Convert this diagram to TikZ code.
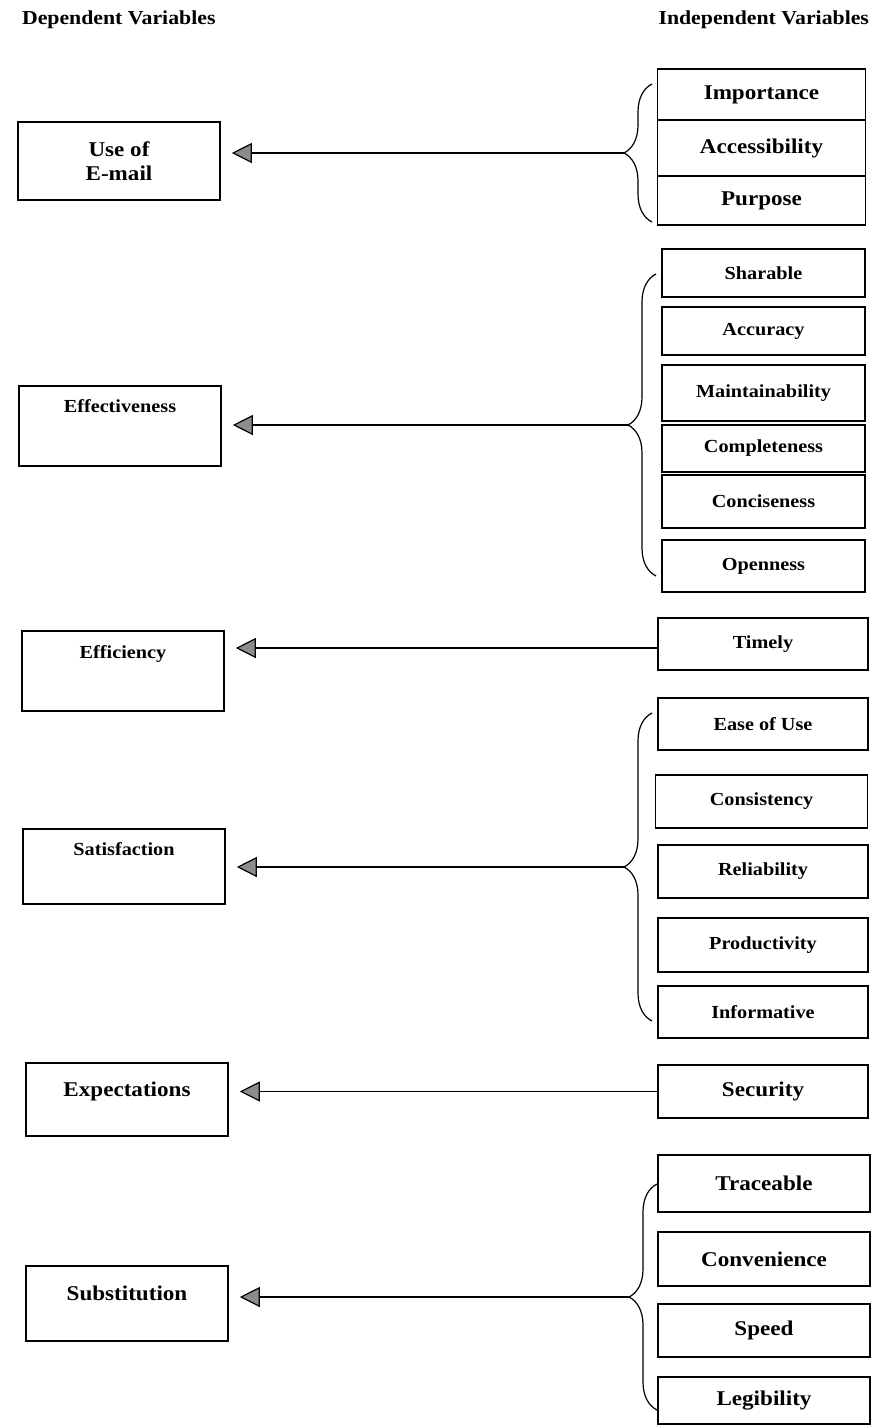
\documentclass[tikz,border=0pt]{standalone}
\usepackage{fontspec}
\setmainfont{Liberation Serif}[FakeStretch=1.1]
\usetikzlibrary{arrows.meta,decorations.pathreplacing}
\tikzset{
    headtxt/.style={font=\bfseries\fontsize{9.9}{12}\selectfont},
    bigtxt/.style={font=\bfseries\fontsize{10.5}{12}\selectfont},
    smalltxt/.style={font=\bfseries\fontsize{9.2}{11}\selectfont},
    depbox/.style={draw, line width=.8pt, inner ysep=0pt, minimum width=101pt},
    indbox/.style={draw, line width=.8pt, minimum width=104pt},
    varrow/.style={line width=.6pt, shorten >=5.5pt,
        -{Triangle[length=10pt,width=10pt,fill=black!45]}},
    grpbrace/.style={decorate, decoration={brace, amplitude=14pt}, line width=.6pt}
}

\begin{document}
\begin{tikzpicture}[x=0.5pt, y=-0.5pt]
    \useasboundingbox (0,0) rectangle (880,1425);

    %Headers
    \node[headtxt, anchor=west] (dephd) at (15,20) {Dependent Variables};
    \node[headtxt, anchor=east] (indhd) at (876,20) {Independent Variables};

    %Dependent variables
    \node[depbox, bigtxt, align=center, minimum height=39pt] (use) at (119,161) {Use of\\E-mail};
    \node[depbox, smalltxt, anchor=north, text height=13.5pt, text depth=26.5pt] (eff) at (120,385) {Effectiveness};
    \node[depbox, smalltxt, anchor=north, text height=14pt, text depth=26pt] (effc) at (123,630) {Efficiency};
    \node[depbox, smalltxt, anchor=north, text height=13.5pt, text depth=24pt] (sat) at (124,828) {Satisfaction};
    \node[depbox, bigtxt, anchor=north, text height=17pt, text depth=19.5pt] (expc) at (127,1062) {Expectations};
    \node[depbox, bigtxt, anchor=north, text height=17.5pt, text depth=20pt] (subs) at (127,1265) {Substitution};

    %Independent variables
    \node[indbox, bigtxt, minimum height=25.5pt] (imp) at (761.5,94.5) {Importance};
    \node[indbox, bigtxt, minimum height=28pt] (acc) at (761.5,148) {Accessibility};
    \node[indbox, bigtxt, minimum height=24.5pt] (pur) at (761.5,200.5) {Purpose};

    \node[indbox, smalltxt, minimum width=101.5pt, minimum height=24pt] (shar) at (763.5,273) {Sharable};
    \node[indbox, smalltxt, minimum width=101.5pt, minimum height=24pt] (accu) at (763.5,331) {Accuracy};
    \node[indbox, smalltxt, minimum width=101.5pt, minimum height=28pt] (main) at (763.5,393) {Maintainability};
    \node[indbox, smalltxt, minimum width=101.5pt, minimum height=23.5pt] (comp) at (763.5,448.5) {Completeness};
    \node[indbox, smalltxt, minimum width=101.5pt, minimum height=26.5pt] (conc) at (763.5,501.5) {Conciseness};
    \node[indbox, smalltxt, minimum width=101.5pt, minimum height=26pt] (open) at (763.5,566) {Openness};

    \node[indbox, smalltxt, minimum width=105pt, minimum height=26pt] (timely) at (763,644) {Timely};

    \node[indbox, smalltxt, minimum width=105pt, minimum height=26pt] (ease) at (763,724) {Ease of Use};
    \node[indbox, smalltxt, minimum width=106pt, minimum height=26.5pt] (cons) at (761.5,801.5) {Consistency};
    \node[indbox, smalltxt, minimum width=105pt, minimum height=26.5pt] (rel) at (763,871.5) {Reliability};
    \node[indbox, smalltxt, minimum width=105pt, minimum height=27pt] (prod) at (763,945) {Productivity};
    \node[indbox, smalltxt, minimum width=105pt, minimum height=26pt] (inf) at (763,1012) {Informative};

    \node[indbox, bigtxt, minimum width=105pt, minimum height=26.5pt] (sec) at (763,1091.5) {Security};

    \node[indbox, bigtxt, minimum width=106pt, minimum height=28.5pt] (trac) at (764,1183.5) {Traceable};
    \node[indbox, bigtxt, minimum width=106pt, minimum height=27pt] (conv) at (764,1259) {Convenience};
    \node[indbox, bigtxt, minimum width=106pt, minimum height=26.5pt] (speed) at (764,1330.5) {Speed};
    \node[indbox, bigtxt, minimum width=106pt, minimum height=23.5pt] (leg) at (764,1400.5) {Legibility};

    %Braces
    \draw[grpbrace] (652,222) -- (652,84);
    \coordinate (tipuse) at (624,153);
    \draw[grpbrace] (656,576) -- (656,274);
    \coordinate (tipeff) at (628,425);
    \draw[grpbrace] (652,1021) -- (652,713);
    \coordinate (tipsat) at (624,867);
    \draw[grpbrace] (657,1410) -- (657,1184);
    \coordinate (tipsubs) at (629,1297);

    %Arrows
    \draw[varrow] (tipuse) -- (tipuse -| use.east);
    \draw[varrow] (tipeff) -- (tipeff -| eff.east);
    \draw[varrow] ([yshift=-2pt]timely.west) -- ([yshift=-2pt]timely.west -| effc.east);
    \draw[varrow] (tipsat) -- (tipsat -| sat.east);
    \draw[varrow] (sec.west) -- (sec.west -| expc.east);
    \draw[varrow] (tipsubs) -- (tipsubs -| subs.east);

\end{tikzpicture}
\end{document}
